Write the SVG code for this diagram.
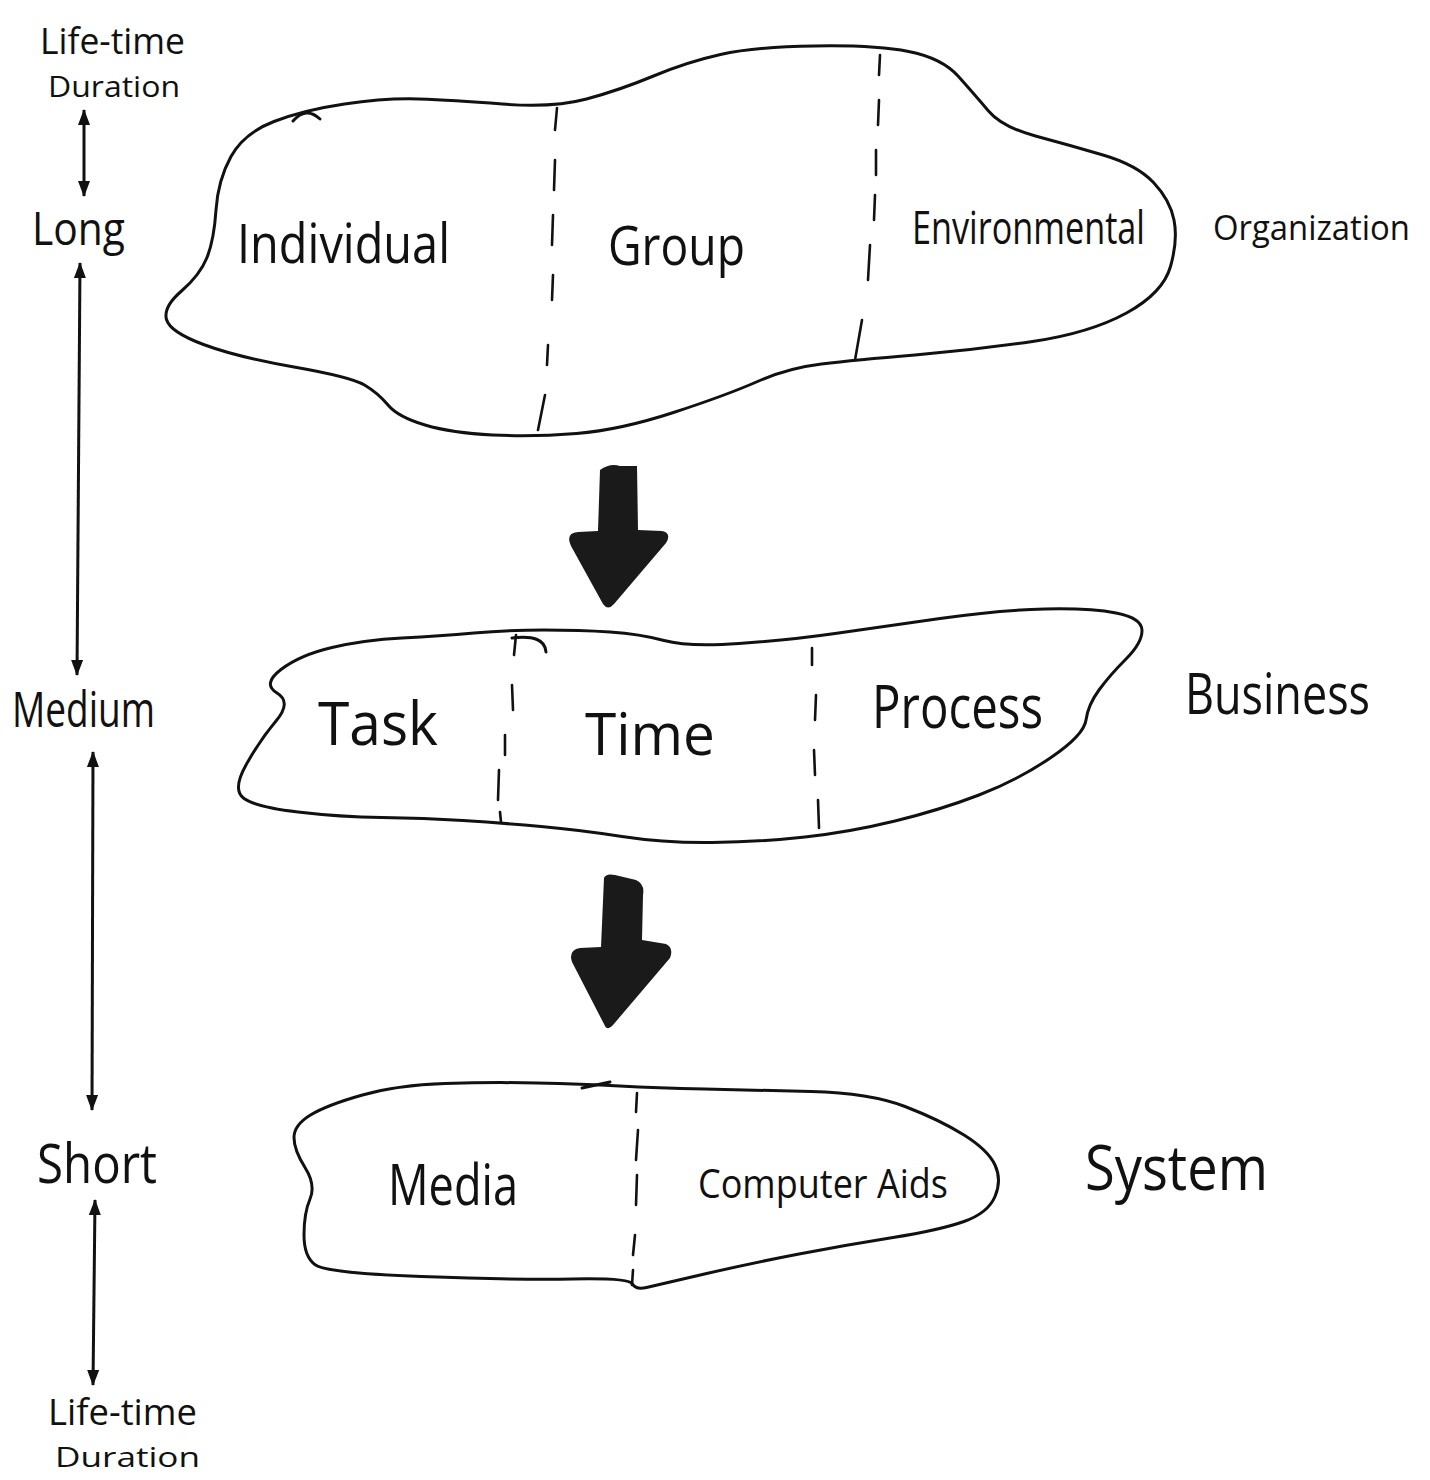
<svg xmlns="http://www.w3.org/2000/svg" width="1430" height="1480" viewBox="0 0 1430 1480">
<defs>
<marker id="ah" viewBox="0 0 16 12" refX="15" refY="6" markerWidth="16" markerHeight="12" markerUnits="userSpaceOnUse" orient="auto-start-reverse">
<path d="M0,0 L16,6 L0,12 Z" fill="#111"/>
</marker>
<style>
.blob{fill:none;stroke:#111;stroke-width:3;stroke-linejoin:round;stroke-linecap:round}
.dash{fill:none;stroke:#111;stroke-width:2.6;stroke-linecap:round}
.axis{fill:none;stroke:#111;stroke-width:3;marker-start:url(#ah);marker-end:url(#ah)}
.big{fill:#1a1a1a;stroke:none}
text{font-family:"Open Sans","Liberation Sans",sans-serif;font-weight:400;fill:#111}
</style>
</defs>
<rect width="1430" height="1480" fill="#ffffff"/>

<g id="axis-labels">
<text x="40" y="54" font-size="36" textLength="145" lengthAdjust="spacingAndGlyphs">Life-time</text>
<text x="48" y="97" font-size="30" textLength="132" lengthAdjust="spacingAndGlyphs">Duration</text>
<text x="32" y="245" font-size="46" textLength="93" lengthAdjust="spacingAndGlyphs">Long</text>
<text x="12" y="727" font-size="50" textLength="143" lengthAdjust="spacingAndGlyphs">Medium</text>
<text x="37" y="1183" font-size="54" textLength="120" lengthAdjust="spacingAndGlyphs">Short</text>
<text x="48" y="1425" font-size="36" textLength="149" lengthAdjust="spacingAndGlyphs">Life-time</text>
<text x="55" y="1467" font-size="28" textLength="145" lengthAdjust="spacingAndGlyphs">Duration</text>
</g>

<g id="organization">
<path class="blob" d="M 274,121.5 Q 304,110 344.5,104 Q 385,98 418.5,99 Q 452,100 502.5,104 Q 553,108 586.5,99 Q 620,90 653.5,76 Q 687,62 720.5,54.5 Q 754,47 814.5,46 Q 875,45 908.5,51.5 Q 942,58 958.5,76.5 Q 975,95 988.5,111 Q 1002,127 1035.5,136 Q 1069,145 1103,155 Q 1137,165 1153.5,182.5 Q 1170,200 1174,220 Q 1178,240 1170.5,266.5 Q 1163,293 1126.5,313 Q 1090,333 1032.5,341.5 Q 975,350 915,355 Q 855,360 821.5,364 Q 788,368 757.5,381.5 Q 727,395 673.5,412.5 Q 620,430 576.5,433.5 Q 533,437 492.5,435 Q 452,433 425,425 Q 398,417 388,405 Q 378,393 364.5,385 Q 351,377 294,367 Q 237,357 203.5,344.5 Q 170,332 166.5,319.5 Q 163,307 181.5,291 Q 200,275 207,257.5 Q 214,240 216,210 Q 218,180 231,156.5 Q 244,133 274,121.5 Z"/>
<path class="blob" d="M 293,121 Q 306,106 320,119"/>
<g class="dash">
<path d="M557,108 L555,130 M555,160 L554,190 M553,215 L552,245 M553,275 L552,300 M548,345 L547,365 M545,395 L538,430"/>
<path d="M880,55 L879,75 M879,100 L878,125 M876,150 L876,175 M875,195 L874,220 M870,245 L868,280 M862,320 L855,360"/>
</g>
<text x="237" y="263" font-size="54" textLength="213" lengthAdjust="spacingAndGlyphs">Individual</text>
<text x="608" y="265" font-size="54" textLength="137" lengthAdjust="spacingAndGlyphs">Group</text>
<text x="912" y="244" font-size="46" textLength="233" lengthAdjust="spacingAndGlyphs">Environmental</text>
<text x="1213" y="240" font-size="35" textLength="197" lengthAdjust="spacingAndGlyphs">Organization</text>
</g>

<g id="business">
<path class="blob" d="M 332,647.5 Q 364,640 402,638 Q 440,636 474,633 Q 508,630 544,630 Q 580,630 610,632 Q 640,634 664,640.5 Q 688,647 739,643.5 Q 790,640 835,633.5 Q 880,627 940,618.5 Q 1000,610 1045,609 Q 1090,608 1116,613 Q 1142,618 1142,630.5 Q 1142,643 1126,659 Q 1110,675 1099,690 Q 1088,705 1086,720 Q 1084,735 1051,757.5 Q 1018,780 979,795 Q 940,810 895,821 Q 850,832 805,837 Q 760,842 712,842.5 Q 664,843 622,836.5 Q 580,830 541,826.5 Q 502,823 463,820.5 Q 424,818 382,817.5 Q 340,817 298,812 Q 256,807 244,798.5 Q 232,790 246,765 Q 260,740 276,721 Q 292,702 277,693 Q 262,684 281,669.5 Q 300,655 332,647.5 Z"/>
<path class="blob" d="M 512,638 Q 545,634 546,652"/>
<g class="dash">
<path d="M516,635 L514,655 M512,685 L513,710 M505,735 L505,755 M499,770 L498,800 M500,812 L501,822"/>
<path d="M812,648 L812,665 M816,695 L815,720 M814,750 L815,775 M818,800 L819,828"/>
</g>
<text x="318" y="745" font-size="60" textLength="120" lengthAdjust="spacingAndGlyphs">Task</text>
<text x="585" y="755" font-size="58" textLength="130" lengthAdjust="spacingAndGlyphs">Time</text>
<text x="872" y="728" font-size="60" textLength="171" lengthAdjust="spacingAndGlyphs">Process</text>
<text x="1185" y="714" font-size="56" textLength="185" lengthAdjust="spacingAndGlyphs">Business</text>
</g>

<g id="system">
<path class="blob" d="M 362.5,1095 Q 398,1085 445,1083.5 Q 492,1082 537,1083 Q 582,1084 619.5,1086 Q 657,1088 704.5,1089 Q 752,1090 811,1091.5 Q 870,1093 905,1106.5 Q 940,1120 964,1135 Q 988,1150 995,1165 Q 1002,1180 995,1196.5 Q 988,1213 964,1221.5 Q 940,1230 893,1237.5 Q 846,1245 799,1254 Q 752,1263 704.5,1274 Q 657,1285 646.5,1287.5 Q 636,1290 632.5,1284 Q 629,1278 572.5,1279 Q 516,1280 421.5,1276.5 Q 327,1273 315.5,1265 Q 304,1257 304,1235 Q 304,1213 310,1199 Q 316,1185 305,1167.5 Q 294,1150 294,1137.5 Q 294,1125 310.5,1115 Q 327,1105 362.5,1095 Z"/>
<path class="blob" d="M 582,1088 L 610,1082"/>
<g class="dash">
<path d="M637,1093 L636,1112 M638,1130 L636,1160 M637,1175 L636,1205 M635,1235 L633,1255 M633,1270 L632,1285"/>
</g>
<text x="388" y="1205" font-size="56" textLength="130" lengthAdjust="spacingAndGlyphs">Media</text>
<text x="698" y="1198" font-size="40" textLength="250" lengthAdjust="spacingAndGlyphs">Computer Aids</text>
<text x="1085" y="1190" font-size="62" textLength="183" lengthAdjust="spacingAndGlyphs">System</text>
</g>

<g id="connectors">
<path class="axis" d="M84,110 L84,196"/>
<path class="axis" d="M80,263 L77,675"/>
<path class="axis" d="M93,752 L92,1110"/>
<path class="axis" d="M95,1200 L93,1385"/>
<path class="big" d="M600,470 Q 610,463 620,466 L637,466 L638,530 L662,531 Q 672,533 666,543 L614,604 Q 608,611 603,604 L571,546 Q 565,533 578,532 L598,531 Z"/>
<path class="big" d="M604,878 Q 606,873 615,875 L636,880 Q 645,884 643,895 L642,940 L666,944 Q 674,948 670,958 L613,1025 Q 607,1032 604,1024 L572,962 Q 568,950 580,948 L601,947 Z"/>
</g>
</svg>
